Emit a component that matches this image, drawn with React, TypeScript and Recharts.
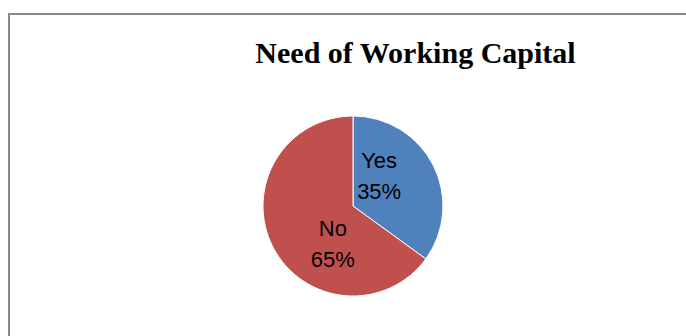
import { Cell, Pie, PieChart } from "recharts";

const categories = ["Yes", "No"];
const shares = [35, 65];
const sliceColors = ["#4F81BD", "#C0504D"];

const data = categories.map((name, i) => ({ name, value: shares[i] }));

const RADIAN = Math.PI / 180;

const renderLabel = (props: any) => {
    const { cx, cy, midAngle, outerRadius, name, value } = props;
    // excel's best-fit puts the labels a bit further round than the mid angle
    const a = (midAngle + 29) * RADIAN;
    const r = outerRadius * 0.46;
    const x = cx + r * Math.cos(a) + 3;
    const y = cy - r * Math.sin(a);
    return (
        <text
            x={x}
            y={y}
            textAnchor="middle"
            fill="#000"
            style={{ fontFamily: "'Liberation Sans', Arial, sans-serif", fontSize: 22 }}
        >
            <tspan x={x} dy={-4}>{name}</tspan>
            <tspan x={x} dy={31}>{value}%</tspan>
        </text>
    );
};

export default function App() {
    return (
        <div style={{ position: "fixed", left: 0, top: 0, right: 0, bottom: 0, overflow: "hidden", background: "#fff" }}>
            <div
                style={{
                    position: "absolute",
                    left: 8,
                    top: 13,
                    width: 720,
                    height: 360,
                    border: "2px solid #898989",
                    background: "#fff",
                }}
            >
                <div
                    style={{
                        position: "absolute",
                        left: 0,
                        top: 23,
                        width: 811,
                        textAlign: "center",
                        whiteSpace: "nowrap",
                        fontFamily: "'Liberation Serif', 'Times New Roman', serif",
                        fontWeight: "bold",
                        fontSize: 30,
                        lineHeight: "30px",
                        color: "#000",
                    }}
                >
                    Need of Working Capital
                </div>
                <PieChart width={676} height={320}>
                    <Pie
                        data={data}
                        dataKey="value"
                        nameKey="name"
                        cx={338}
                        cy={186}
                        outerRadius={90}
                        startAngle={90}
                        endAngle={-270}
                        stroke="#fff"
                        strokeWidth={1}
                        label={renderLabel}
                        labelLine={false}
                        isAnimationActive={false}
                    >
                        {data.map((d, i) => (
                            <Cell key={d.name} fill={sliceColors[i]} />
                        ))}
                    </Pie>
                </PieChart>
            </div>
        </div>
    );
}
